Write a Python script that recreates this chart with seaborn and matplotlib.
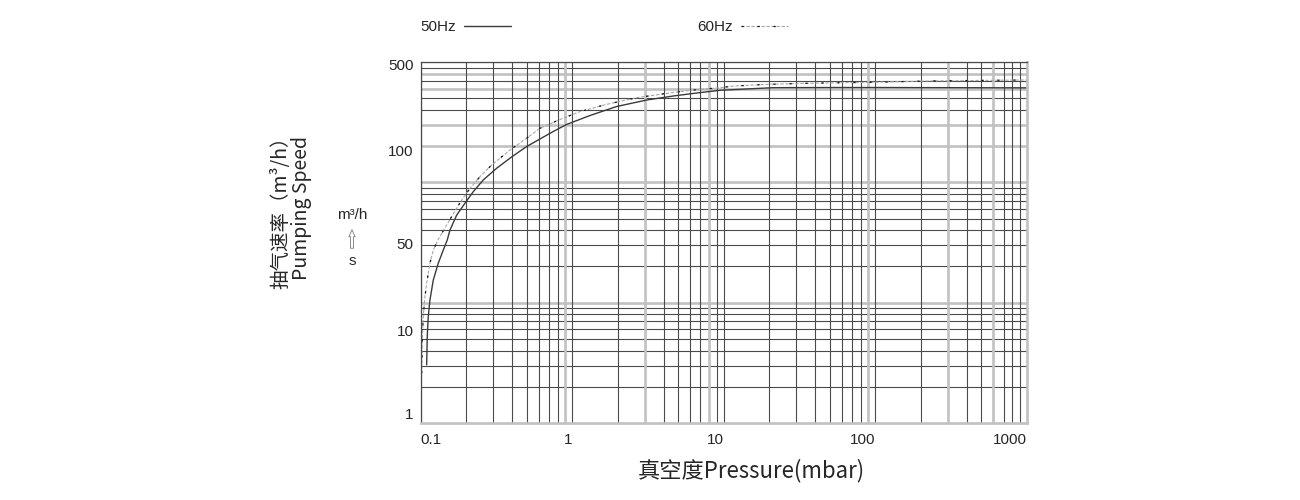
import numpy as np
import pandas as pd
import matplotlib
matplotlib.use("Agg")
import matplotlib.pyplot as plt
import seaborn as sns
from matplotlib.ticker import FixedLocator, LogLocator, NullFormatter, NullLocator

# pressure (mbar) and pumping speed
p_50 = [0.1095, 0.1105, 0.1122, 0.1151, 0.1211, 0.1306, 0.141, 0.1498, 0.156, 0.1728,
        0.196, 0.2223, 0.2588, 0.317, 0.398, 0.5, 0.612, 0.749, 0.918, 1.309, 1.963,
        3.096, 4.637, 6.616, 9.43, 21.1, 50, 100, 300, 1000]
s_50 = [3.8, 8.3, 12.8, 17.4, 25.2, 34.4, 43.9, 51.2, 55.1, 61.7,
        67.5, 73.6, 80.4, 87.8, 95.6, 108.7, 125.1, 144.0, 164.3, 194.3, 229.9,
        259.6, 279.9, 296.0, 311.4, 327, 328, 328, 327, 326]

p_60 = [0.1015, 0.1025, 0.104, 0.1067, 0.1095, 0.1151, 0.1211, 0.130, 0.16, 0.1864,
        0.2114, 0.246, 0.294, 0.388, 0.5, 0.612, 0.83, 1.124, 1.686, 2.66, 4.195,
        6.284, 9.43, 11.5, 19.2, 35.2, 96.3, 229, 541, 1000]
s_60 = [3.0, 7.6, 12.8, 18.5, 23.7, 34.4, 43.9, 51.2, 61.0, 69.1,
        75.5, 82.4, 90.0, 101.8, 126.8, 152.9, 180.3, 208.9, 239.5, 271, 294,
        313, 326.8, 337, 348, 355, 362, 371, 375, 378]

x_ticks = [0.1, 1, 10, 100, 1000]
x_labels = ["0.1", "1", "10", "100", "1000"]
y_ticks = [1, 10, 50, 100, 500]
y_labels = ["1", "10", "50", "100", "500"]

# the speed axis labels are spaced by eye on the original, not on a true log scale
anchor_vals = np.log10([0.5, 1, 10, 50, 100, 500, 1000])
anchor_pos = [-0.0415, 0.0277, 0.2576, 0.4986, 0.7535, 0.9917, 1.0943]


def fwd(v):
    v = np.clip(np.asarray(v, dtype=float), 1e-3, None)
    return np.interp(np.log10(v), anchor_vals, anchor_pos)


def inv(p):
    return 10 ** np.interp(np.asarray(p, dtype=float), anchor_pos, anchor_vals)


sns.set_style("white")
plt.rcParams["font.family"] = ["Liberation Sans", "Noto Sans CJK SC", "DejaVu Sans"]
cjk = ["Noto Sans CJK SC", "DejaVu Sans"]

dark = "#4a4a4a"
light = "#c2c2c2"

fig = plt.figure(figsize=(13, 5), dpi=100)
ax = fig.add_axes([0.3236, 0.154, 0.4664, 0.722])

# grid for the speed axis lives on a plain log twin (3 decades)
ax2 = ax.twinx()
ax2.set_yscale("log")
ax2.set_ylim(1, 1000)
ax2.yaxis.set_minor_locator(LogLocator(base=10, subs=np.arange(2, 10)))
ax2.yaxis.set_minor_formatter(NullFormatter())
ax2.grid(which="both", axis="y", color=dark, lw=0.8)
for v in [10, 100, 200, 300, 600, 800]:
    ax2.axhline(v, color=light, lw=1.9)
ax2.tick_params(which="both", right=False, labelright=False)
for s in ax2.spines.values():
    s.set_visible(False)
ax.set_zorder(ax2.get_zorder() + 1)
ax.patch.set_visible(False)

df50 = pd.DataFrame({"pressure": p_50, "speed": s_50})
df60 = pd.DataFrame({"pressure": p_60, "speed": s_60})

sns.lineplot(data=df50, x="pressure", y="speed", ax=ax, color="#3a3a3a", lw=1.0)
sns.lineplot(data=df60, x="pressure", y="speed", ax=ax, color="#a8a8a8", lw=0.8,
             linestyle=(0, (3, 1.5)))
sns.lineplot(data=df60, x="pressure", y="speed", ax=ax, color="#111111", lw=0.9,
             linestyle=(0, (1.8, 11)))
h50, h60a, h60b = ax.lines[:3]

ax.set_xscale("log")
ax.set_xlim(0.1, 1000)
ax.set_yscale("function", functions=(fwd, inv))
ax.set_ylim(float(inv(0)), float(inv(1)))

ax.xaxis.set_major_locator(FixedLocator(x_ticks))
ax.set_xticklabels(x_labels, fontsize=11)
ax.xaxis.set_minor_locator(LogLocator(base=10, subs=np.arange(2, 10)))
ax.xaxis.set_minor_formatter(NullFormatter())
ax.yaxis.set_major_locator(FixedLocator(y_ticks))
ax.set_yticklabels(y_labels, fontsize=11)
ax.yaxis.set_minor_locator(NullLocator())
ax.tick_params(which="both", length=0)
ax.tick_params(axis="x", pad=7)
ax.tick_params(axis="y", pad=5)
for i, t in enumerate(ax.get_xticklabels()):
    t.set_ha("left" if i == 0 else "right")

ax.grid(which="both", axis="x", color=dark, lw=0.8)
for v in [0.9, 3, 8, 90, 300, 600]:
    ax.axvline(v, color=light, lw=1.9, zorder=1)

ax.spines["left"].set_color(dark)
ax.spines["top"].set_color(dark)
for side in ["right", "bottom"]:
    ax.spines[side].set_color(light)
    ax.spines[side].set_linewidth(1.9)
for s in ["left", "top"]:
    ax.spines[s].set_linewidth(0.9)

ax.set_xlabel("真空度Pressure(mbar)", family=cjk, fontsize=16)
ax.xaxis.set_label_coords(0.546, -0.098)
ax.set_ylabel("抽气速率（m³/h）\nPumping Speed", family=cjk, fontsize=14,
              va="center", linespacing=0.95)
ax.yaxis.set_label_coords(-0.214, 0.596)

fig.text(352 / 1300, 1 - 215 / 500, "m³/h", ha="center", va="center", fontsize=11)
fig.text(352 / 1300, 1 - 261 / 500, "s", ha="center", va="center", fontsize=11)
ax.annotate("", xy=(352, 273), xytext=(352, 249), xycoords="figure pixels",
            textcoords="figure pixels",
            arrowprops=dict(arrowstyle="simple,head_length=0.5,head_width=0.45,tail_width=0.22",
                            fc="white", ec="#777777", lw=0.6))

ax.legend(handles=[h50, (h60a, h60b)], labels=["50Hz", "60Hz"], ncol=2,
          markerfirst=False, frameon=False, loc="center left",
          bbox_to_anchor=(0, 1.097), bbox_transform=ax.transAxes, fontsize=11,
          handlelength=3.1, handletextpad=0.5, columnspacing=12.2,
          borderaxespad=0, borderpad=0)

fig.savefig("out.png", dpi=100, facecolor="white")
